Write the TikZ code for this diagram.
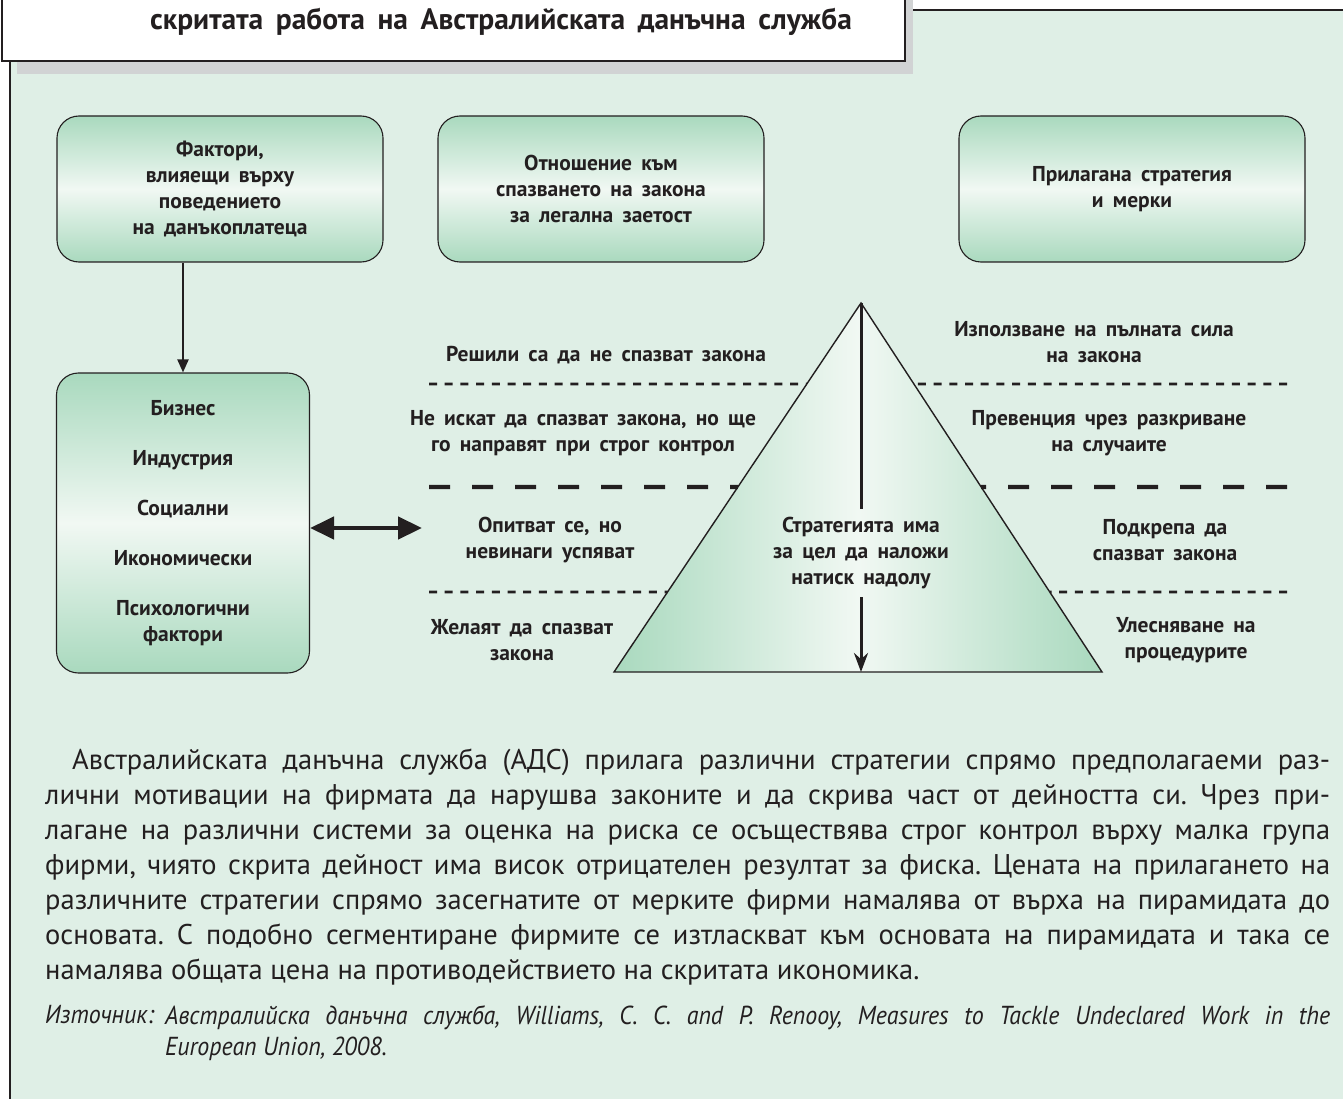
\documentclass[tikz,border=0pt]{standalone}
\usepackage{fontspec}
\setmainfont{PT Sans}
\newfontfamily\labelfont{PT Sans}[WordSpace=1.7]
\newfontfamily\sourcefont{PT Sans}[FakeStretch=0.92]
\usetikzlibrary{arrows.meta,calc}
\definecolor{PanelGreen}{HTML}{DFEFE6}
\definecolor{BoxGreen}{HTML}{A9D9BE}
\definecolor{BoxPale}{HTML}{F1F8F3}
\definecolor{ShadowGray}{HTML}{D1D3D4}
\definecolor{InkDark}{HTML}{231F20}
\frenchspacing

\begin{document}
\begin{tikzpicture}[x=1pt, y=-1pt,
  factorbox/.style={rectangle, rounded corners=22pt, draw=InkDark, line width=1.1pt,
                    top color=BoxGreen, bottom color=BoxGreen, middle color=BoxPale,
                    align=center, text=InkDark, inner sep=0pt,
                    font=\labelfont\bfseries\fontsize{21.5}{26}\selectfont},
  tier/.style={align=center, text=InkDark, inner sep=0pt,
               font=\labelfont\bfseries\fontsize{21.5}{26}\selectfont},
  thindash/.style={draw=InkDark, line width=2.8pt, dash pattern=on 8pt off 7.7pt},
  thickdash/.style={draw=InkDark, line width=4.2pt, dash pattern=on 21pt off 22pt},
  arr/.style={draw=InkDark, line width=2pt, -{Triangle[length=13pt,width=11pt]}},
  darr/.style={draw=InkDark, line width=4.5pt,
               {Triangle[length=24pt,width=22pt]}-{Triangle[length=24pt,width=22pt]}},
  pressarr/.style={draw=InkDark, line width=3pt, -{Stealth[length=19pt,width=14pt]}},
  bodytext/.style={align=justify, text=InkDark, inner sep=0pt, anchor=north west,
                   font=\fontsize{28.5}{35}\selectfont}
]
  \useasboundingbox (0,0) rectangle (1343,1099);
  \clip (0,0) rectangle (1343,1099);

  % panel and title
  \fill[PanelGreen] (10,10) rectangle (1360,1120);
  \draw[InkDark, line width=1.3pt] (10,61) -- (10,1120);
  \draw[InkDark, line width=1.3pt] (905,10) -- (1360,10);
  \fill[ShadowGray] (17,-40) rectangle (913,74);
  \draw[InkDark, line width=1.3pt, fill=white] (2,-40) rectangle (905,61);
  \node[tier, font=\labelfont\bfseries\fontsize{29.5}{32}\selectfont] (title) at (501,22)
        {скритата работа на Австралийската данъчна служба};

  % top row
  \node[factorbox, minimum width=326pt, minimum height=146pt] (fac) at (220,189)
        {Фактори,\\влияещи върху\\поведението\\на данъкоплатеца};
  \node[factorbox, minimum width=326pt, minimum height=146pt] (att) at (601,189)
        {Отношение към\\спазването на закона\\за легална заетост};
  \node[factorbox, minimum width=346pt, minimum height=146pt] (meas) at (1132,189)
        {Прилагана стратегия\\и мерки};

  \node[factorbox, minimum width=253pt, minimum height=300pt] (kinds) at (183,523)
        {Бизнес\\[24pt]Индустрия\\[24pt]Социални\\[24pt]Икономически\\[24pt]Психологични\\фактори};

  \draw[arr] (fac.south -| kinds.north) -- (kinds.north);
  \coordinate (reach) at (422,528);
  \draw[darr] (kinds.east |- reach) -- (reach);

  % pyramid
  \coordinate (apex) at (861,303);
  \coordinate (bl) at (614,672);
  \coordinate (br) at (1102,672);
  \coordinate (foot) at (861,672);
  \path[left color=BoxGreen, right color=BoxGreen, middle color=BoxPale]
        (apex) -- (bl) -- (br) -- cycle;
  \draw[InkDark, line width=1.4pt] (apex) -- (bl) -- (br) -- cycle;

  \node[tier, inner sep=8pt] (aim) at (861,553)
        {Стратегията има\\за цел да наложи\\натиск надолу};
  \draw[InkDark, line width=3pt] (apex) -- (aim.north);
  \draw[pressarr] (aim.south) -- (foot);

  % separators
  \coordinate (l1) at ($(apex)!0.2195!(bl)$);
  \coordinate (r1) at ($(apex)!0.2195!(br)$);
  \coordinate (l2) at ($(apex)!0.4986!(bl)$);
  \coordinate (r2) at ($(apex)!0.4986!(br)$);
  \coordinate (l3) at ($(apex)!0.7832!(bl)$);
  \coordinate (r3) at ($(apex)!0.7832!(br)$);
  \coordinate (w1) at (429,384);
  \coordinate (e1) at (1287,384);
  \coordinate (w2) at (429,487);
  \coordinate (e2) at (1287,487);
  \coordinate (w3) at (429,592);
  \coordinate (e3) at (1287,592);
  \draw[thindash] (w1) -- (l1);
  \draw[thindash] (e1) -- (r1);
  \draw[thickdash] (w2) -- (l2);
  \draw[thickdash] (e2) -- (r2);
  \draw[thindash] (w3) -- (l3);
  \draw[thindash] (e3) -- (r3);

  % levels, left
  \node[tier] (resolved) at (606,355) {Решили са да не спазват закона};
  \node[tier] (reluct) at (583,433) {Не искат да спазват закона, но ще\\го направят при строг контрол};
  \node[tier] (trying) at (550,540) {Опитват се, но\\невинаги успяват};
  \node[tier] (willing) at (522,640) {Желаят да спазват\\закона};

  % levels, right
  \node[tier] (fullforce) at (1094,342) {Използване на пълната сила\\на закона};
  \node[tier] (detect) at (1109,433) {Превенция чрез разкриване\\на случаите};
  \node[tier] (support) at (1165,540) {Подкрепа да\\спазват закона};
  \node[tier] (easing) at (1186,640) {Улесняване на\\процедурите};

  % text below
  \node[bodytext, text width=1285pt] (para) at (45,749)
        {\tolerance=9999\hspace*{27pt}Австралийската данъчна служба (АДС) прилага различни стратегии спрямо предполагаеми раз-\linebreak{}лични мотивации на фирмата да нарушва законите и да скрива част от дейността си. Чрез при-\linebreak{}лагане на различни системи за оценка на риска се осъществява строг контрол върху малка група\linebreak{} фирми, чиято скрита дейност има висок отрицателен резултат за фиска. Цената на прилагането на\linebreak{} различните стратегии спрямо засегнатите от мерките фирми намалява от върха на пирамидата до\linebreak{} основата. С подобно сегментиране фирмите се изтласкват към основата на пирамидата и така се\linebreak{} намалява общата цена на противодействието на скритата икономика.};

  \node[bodytext, font=\sourcefont\itshape\fontsize{26}{31}\selectfont] (srclabel) at (45,1005) {Източник:};
  \node[bodytext, text width=1165pt, font=\sourcefont\itshape\fontsize{26}{31}\selectfont] (srctext) at (165,1005)
        {\tolerance=9999 Австралийска данъчна служба, Williams, C. C. and P. Renooy, Measures to Tackle Undeclared Work in the\linebreak{} European Union, 2008.};
\end{tikzpicture}
\end{document}
